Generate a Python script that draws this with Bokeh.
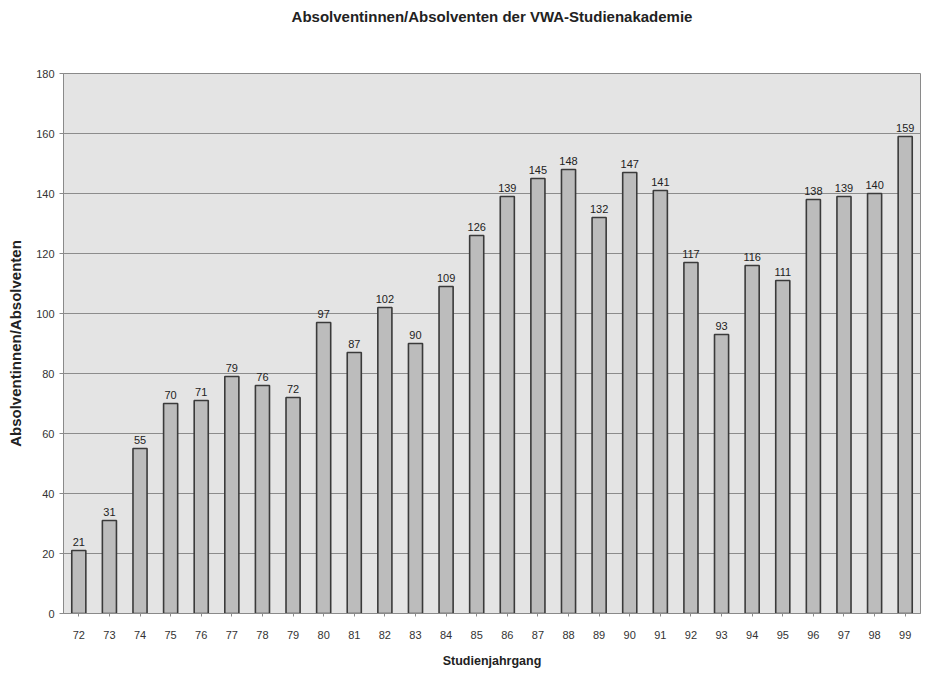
from bokeh.plotting import figure
from bokeh.models import ColumnDataSource, LabelSet, FactorRange, Range1d, SingleIntervalTicker, Title
from bokeh.core.properties import value
from bokeh.embed import file_html
from bokeh.resources import INLINE

# Graduates per cohort year
jahrgaenge = ["72", "73", "74", "75", "76", "77", "78", "79", "80", "81",
              "82", "83", "84", "85", "86", "87", "88", "89", "90", "91",
              "92", "93", "94", "95", "96", "97", "98", "99"]
absolventen = [21, 31, 55, 70, 71, 79, 76, 72, 97, 87,
               102, 90, 109, 126, 139, 145, 148, 132, 147, 141,
               117, 93, 116, 111, 138, 139, 140, 159]

FONT = "Liberation Sans"

source = ColumnDataSource(data=dict(
    jahr=jahrgaenge,
    wert=absolventen,
    text=[str(v) for v in absolventen],
))

p = figure(
    x_range=FactorRange(factors=jahrgaenge, range_padding=0.0),
    y_range=Range1d(0, 180),
    frame_width=857, frame_height=540,
    min_border_left=63, min_border_right=16,
    min_border_top=0, min_border_bottom=60,
    output_backend="svg", toolbar_location=None,
)

# empty band between the heading and the plot area
p.add_layout(Title(text=" ", text_font_size="28.5px"), "above")

# heading
p.add_layout(Title(text="Absolventinnen/Absolventen der VWA-Studienakademie",
                   align="center", offset=-23, text_font=FONT,
                   text_font_style="bold", text_font_size="15px",
                   text_color="#222222"), "above")

p.background_fill_color = "#e4e4e4"
p.border_fill_color = "white"
p.outline_line_color = "#8a8a8a"
p.outline_line_width = 1

p.vbar(x="jahr", top="wert", width=0.46, source=source,
       fill_color="#bcbcbc", line_color="#3a3a3a", line_width=1.6)

labels = LabelSet(x="jahr", y="wert", text="text", source=source,
                  text_align="center", text_baseline="bottom", y_offset=5,
                  text_font=value(FONT), text_font_size="11px",
                  text_color="#222222")
p.add_layout(labels)

# grid
p.xgrid.grid_line_color = None
p.ygrid.grid_line_color = "#8c8c8c"
p.ygrid.grid_line_width = 1

# y axis
p.yaxis.ticker = SingleIntervalTicker(interval=20)
p.yaxis.minor_tick_line_color = None
p.yaxis.axis_line_color = "#8a8a8a"
p.yaxis.major_tick_line_color = "#8a8a8a"
p.yaxis.major_tick_out = 4
p.yaxis.major_tick_in = 0
p.yaxis.major_label_text_font = FONT
p.yaxis.major_label_text_font_size = "11px"
p.yaxis.major_label_text_color = "#333333"
p.yaxis.axis_label = "Absolventinnen/Absolventen"
p.yaxis.axis_label_text_font = FONT
p.yaxis.axis_label_text_font_style = "bold"
p.yaxis.axis_label_text_font_size = "15px"
p.yaxis.axis_label_text_color = "#222222"
p.yaxis.axis_label_standoff = 9

# x axis
p.xaxis.axis_line_color = "#8a8a8a"
p.xaxis.major_tick_line_color = "#8a8a8a"
p.xaxis.major_tick_out = 3
p.xaxis.major_tick_in = 0
p.xaxis.major_label_text_font = FONT
p.xaxis.major_label_text_font_size = "11px"
p.xaxis.major_label_text_color = "#333333"
p.xaxis.major_label_standoff = 14
p.xaxis.axis_label = "Studienjahrgang"
p.xaxis.axis_label_text_font = FONT
p.xaxis.axis_label_text_font_style = "bold"
p.xaxis.axis_label_text_font_size = "12.5px"
p.xaxis.axis_label_text_color = "#222222"
p.xaxis.axis_label_standoff = 12

open("out.html", "w").write(file_html(p, INLINE))
